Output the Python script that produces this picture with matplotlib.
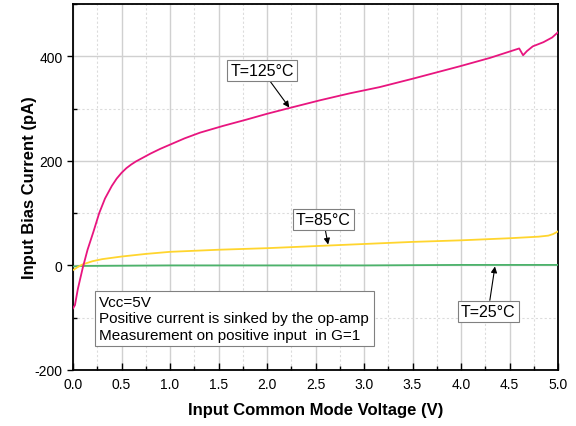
import matplotlib
matplotlib.use("Agg")
import matplotlib.pyplot as plt
from matplotlib.ticker import MultipleLocator
import numpy as np

plt.rcParams['font.family'] = ['Liberation Sans', 'DejaVu Sans']
plt.rcParams['axes.unicode_minus'] = False

v_125 = [0, 0.02, 0.05, 0.1, 0.15, 0.21, 0.27, 0.33, 0.4, 0.45, 0.5, 0.55, 0.6, 0.65, 0.7, 0.8, 0.9, 1.0,
         1.15, 1.31, 1.55, 1.79, 2.0, 2.23, 2.55, 2.85, 3.16, 3.5, 3.99, 4.3, 4.6, 4.64, 4.68, 4.74,
         4.85, 4.94, 5.0]
i_125 = [-82, -76, -45, -5, 30, 64, 100, 128, 152, 166, 177, 186, 193, 199, 204, 214, 223, 231,
         243, 254, 267, 279, 290, 301, 316, 329, 341, 357, 381, 397, 415, 402, 410, 419,
         427, 436, 446]

v_85 = [0, 0.05, 0.1, 0.2, 0.3, 0.5, 0.75, 1.0, 1.5, 2.0, 2.5, 3.0, 3.5, 4.0, 4.5, 4.8, 4.9, 4.95, 5.0]
i_85 = [-9, -3, 2, 8, 12, 17, 22, 26, 30, 33, 37, 41, 45, 48, 52, 55, 57, 60, 65]

v_25 = [0, 0.1, 1.0, 2.0, 3.0, 4.0, 5.0]
i_25 = [-2, -1, 0, 0, 0, 1, 1]

x_ticks = [0.0, 0.5, 1.0, 1.5, 2.0, 2.5, 3.0, 3.5, 4.0, 4.5, 5.0]
y_ticks = [-200, 0, 200, 400]

fig = plt.figure(figsize=(5.76, 4.27), dpi=100)
ax = fig.add_axes([73/576, 1-371/427, (558-73)/576, (371-5)/427])

ax.plot(v_25, i_25, color='#4cb36b', lw=1.3, zorder=3)
ax.plot(v_85, i_85, color='#ffd52e', lw=1.3, zorder=3)
ax.plot(v_125, i_125, color='#e8157f', lw=1.3, zorder=4)

ax.set_xlim(0, 5)
ax.set_ylim(-200, 500)
ax.set_xticks(x_ticks)
ax.set_xticklabels([f"{t:.1f}" for t in x_ticks])
ax.set_yticks(y_ticks)
ax.xaxis.set_minor_locator(MultipleLocator(0.25))
ax.yaxis.set_minor_locator(MultipleLocator(100))

ax.grid(which='major', color='#d0d0d0', lw=1.0, ls='-', zorder=0)
ax.grid(which='minor', color='#dcdcdc', lw=0.8, ls=(0, (2, 2)), zorder=0)
ax.set_axisbelow(True)

ax.tick_params(axis='x', which='major', direction='in', length=5, width=1, labelsize=10, pad=5)
ax.tick_params(axis='x', which='minor', direction='in', length=3, width=1)
ax.tick_params(axis='y', which='major', direction='out', length=4, width=1, labelsize=10)
ax.tick_params(axis='y', which='minor', direction='in', length=3, width=1)

for s in ax.spines.values():
    s.set_linewidth(1.3)
    s.set_color('black')

ax.set_xlabel('Input Common Mode Voltage (V)', fontsize=12, fontweight='bold', labelpad=8)
ax.set_ylabel('Input Bias Current (pA)', fontsize=12, fontweight='bold', labelpad=-2)

bbox = dict(boxstyle='square,pad=0.2', fc='white', ec='#808080', lw=0.8)
arrow = dict(arrowstyle='-|>', color='black', lw=0.8, mutation_scale=9, shrinkA=0, shrinkB=0)

ax.annotate('T=125°C', xy=(2.23, 302), xytext=(1.95, 373), fontsize=11.5,
            ha='center', va='center', bbox=bbox, arrowprops=arrow, zorder=6)
ax.annotate('T=85°C', xy=(2.63, 40), xytext=(2.58, 88), fontsize=11.5,
            ha='center', va='center', bbox=bbox, arrowprops=arrow, zorder=6)
ax.annotate('T=25°C', xy=(4.35, -2), xytext=(4.28, -88), fontsize=11.5,
            ha='center', va='center', bbox=bbox, arrowprops=arrow, zorder=6)

ax.text(0.27, -57, 'Vcc=5V\nPositive current is sinked by the op-amp\nMeasurement on positive input  in G=1',
        fontsize=11, ha='left', va='top', linespacing=1.2,
        bbox=dict(boxstyle='square,pad=0.3', fc='white', ec='#808080', lw=0.8), zorder=6)

fig.savefig('out.png', dpi=100)
